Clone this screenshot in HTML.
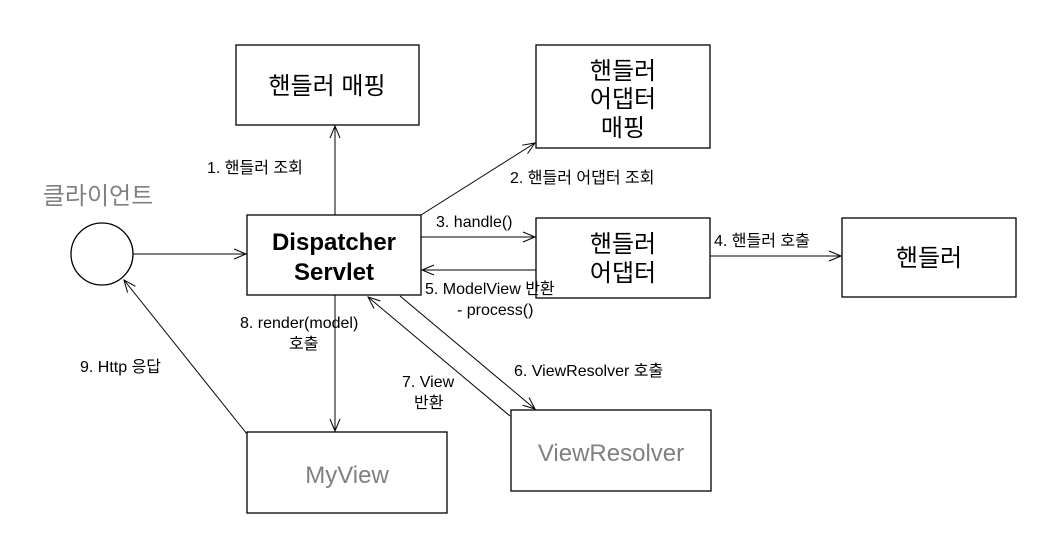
<!DOCTYPE html>
<html><head><meta charset="utf-8"><style>
html,body{margin:0;padding:0;background:#fff}
svg text{font-family:"Liberation Sans","Noto Sans CJK KR",sans-serif}
</style></head><body>
<svg width="1040" height="533" viewBox="0 0 1040 533" xmlns="http://www.w3.org/2000/svg">
<defs>
<marker id="a" markerWidth="14" markerHeight="12" refX="13" refY="6" orient="auto" markerUnits="userSpaceOnUse">
<path d="M1,1 L13,6 L1,11" fill="none" stroke="#000" stroke-width="1"/></marker>
</defs>
<g fill="#fff" stroke="#000" stroke-width="1.3">
<rect x="236" y="45" width="183" height="80"/>
<rect x="536" y="45" width="174" height="103"/>
<rect x="247" y="215" width="174" height="80"/>
<rect x="536" y="218" width="174" height="80"/>
<rect x="842" y="218" width="174" height="79"/>
<rect x="247" y="432" width="200" height="81"/>
<rect x="511" y="410" width="200" height="81"/>
<circle cx="102" cy="254" r="31"/>
</g>
<g stroke="#000" stroke-width="1" fill="none" marker-end="url(#a)">
<line x1="133" y1="254" x2="246" y2="254"/>
<line x1="335" y1="215" x2="335" y2="126"/>
<line x1="421" y1="215" x2="535" y2="143"/>
<line x1="421" y1="237" x2="535" y2="237"/>
<line x1="536" y1="270" x2="422" y2="270"/>
<line x1="710" y1="256" x2="841" y2="256"/>
<line x1="400" y1="296" x2="535" y2="409"/>
<line x1="510" y1="416" x2="368" y2="297"/>
<line x1="335" y1="295" x2="335" y2="431"/>
<line x1="247" y1="434" x2="124" y2="280"/>
</g>
<g font-size="16" fill="#000">
<text x="207" y="173">1. 핸들러 조회</text>
<text x="510" y="183">2. 핸들러 어댑터 조회</text>
<text x="436" y="227">3. handle()</text>
<text x="714" y="246">4. 핸들러 호출</text>
<text x="425" y="294">5. ModelView 반환</text>
<text x="457" y="315">- process()</text>
<text x="514" y="376">6. ViewResolver 호출</text>
<text x="402" y="387">7. View</text>
<text x="414" y="408">반환</text>
<text x="240" y="328">8. render(model)</text>
<text x="289" y="349">호출</text>
<text x="80" y="372">9. Http 응답</text>
</g>
<g font-size="24" fill="#000" text-anchor="middle">
<text x="327" y="94">핸들러 매핑</text>
<text x="623" y="79">핸들러</text>
<text x="623" y="107">어댑터</text>
<text x="623" y="136">매핑</text>
<text x="623" y="252">핸들러</text>
<text x="623" y="281">어댑터</text>
<text x="929" y="266">핸들러</text>
</g>
<g font-size="24" font-weight="bold" text-anchor="middle">
<text x="334" y="250">Dispatcher</text>
<text x="334" y="280">Servlet</text>
</g>
<g font-size="24" fill="#808080" text-anchor="middle">
<text x="347" y="483">MyView</text>
<text x="611" y="461">ViewResolver</text>
<text x="98" y="204">클라이언트</text>
</g>
</svg>
</body></html>
